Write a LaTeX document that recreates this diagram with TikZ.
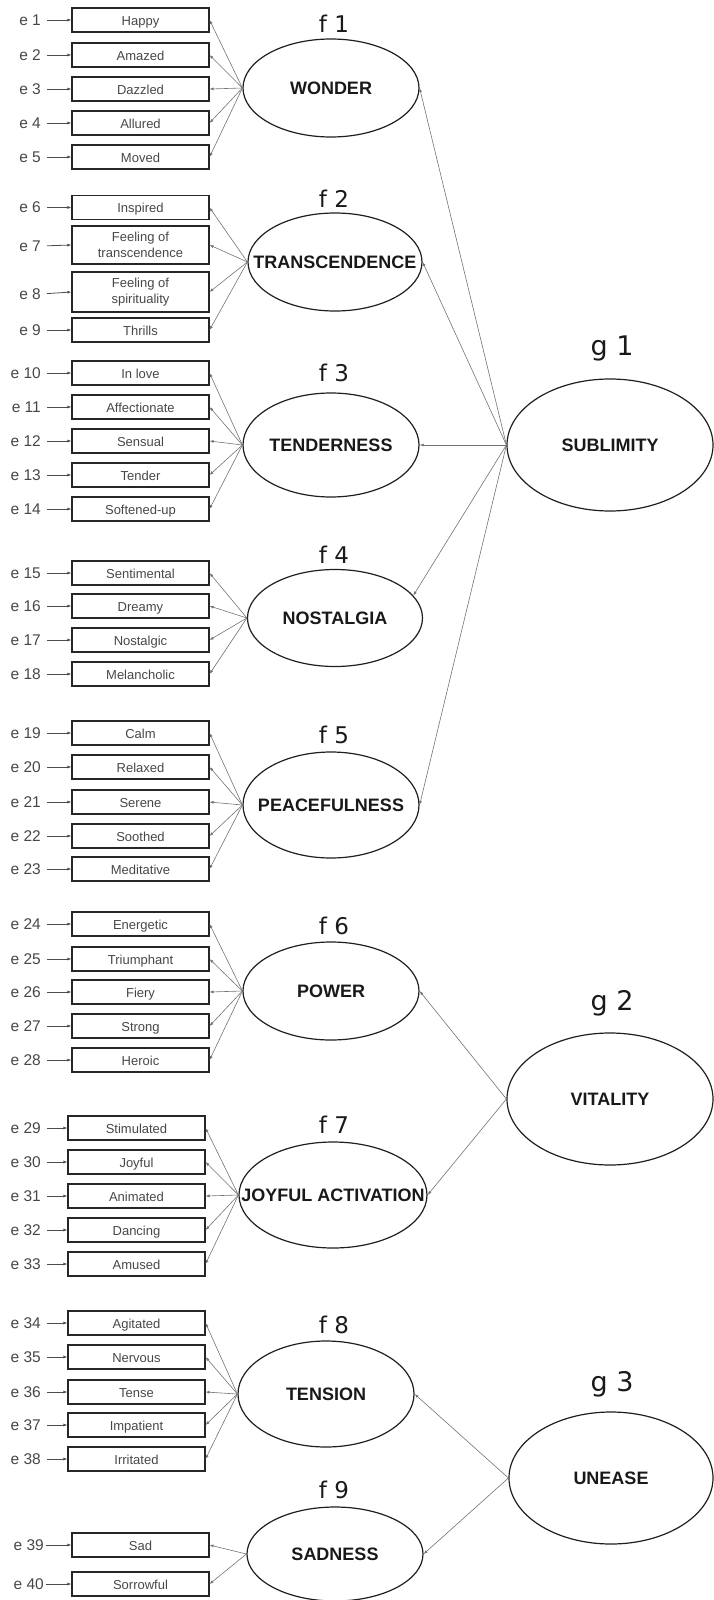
\documentclass[tikz,border=0pt]{standalone}
\usepackage{fontspec}
\setmainfont{Liberation Sans}
\newfontfamily\tagfamily{DejaVu Sans}
\usetikzlibrary{shapes.geometric,arrows.meta}

\begin{document}
\begin{tikzpicture}[x=1pt,y=-1pt,
  itembase/.style={draw=black!85, line width=1.1pt, minimum width=137pt,
    minimum height=24pt, inner sep=0pt, text=black!72,
    font=\fontsize{13}{16}\selectfont},
  item/.style={itembase, text height=10.5pt, text depth=0pt},
  twoline/.style={itembase, align=center},
  factor/.style={ellipse, draw=black!88, line width=1.2pt, inner sep=0pt,
    font=\fontsize{18}{20}\selectfont\bfseries, text=black!90},
  err/.style={anchor=east, inner sep=0pt, text=black!72,
    font=\fontsize{15.5}{17}\selectfont},
  ftag/.style={inner sep=0pt, text=black!90, font=\tagfamily\fontsize{23}{25}\selectfont},
  gtag/.style={inner sep=0pt, text=black!90, font=\tagfamily\fontsize{27}{29}\selectfont},
  load/.style={draw=black!55, line width=0.6pt, -{Latex[length=4pt,width=3pt]}},
  errarrow/.style={draw=black!70, line width=0.8pt, shorten <=6pt,
    -{Latex[length=4pt,width=3pt]}},
]
\useasboundingbox (0,0) rectangle (713,1600);

% ---------- second-order factors ----------
\node[factor, minimum width=206pt, minimum height=132pt] (g1) at (610,445) {\makebox[0pt]{SUBLIMITY}};
\node[factor, minimum width=206pt, minimum height=132pt] (g2) at (610,1099) {\makebox[0pt]{VITALITY}};
\node[factor, minimum width=204pt, minimum height=132pt] (g3) at (611,1478) {\makebox[0pt]{UNEASE}};
\node[gtag] (tg1) at (612,348) {g 1};
\node[gtag] (tg2) at (612,1003) {g 2};
\node[gtag] (tg3) at (612,1384) {g 3};

% ---------- first-order factors ----------
\node[factor, minimum width=176pt, minimum height=98pt]  (f1) at (331,88)   {\makebox[0pt]{WONDER}};
\node[factor, minimum width=174pt, minimum height=98pt]  (f2) at (335,262)  {\makebox[0pt]{TRANSCENDENCE}};
\node[factor, minimum width=176pt, minimum height=104pt] (f3) at (331,445)  {\makebox[0pt]{TENDERNESS}};
\node[factor, minimum width=175pt, minimum height=97pt]  (f4) at (335,618)  {\makebox[0pt]{NOSTALGIA}};
\node[factor, minimum width=176pt, minimum height=106pt] (f5) at (331,805)  {\makebox[0pt]{PEACEFULNESS}};
\node[factor, minimum width=176pt, minimum height=98pt]  (f6) at (331,991)  {\makebox[0pt]{POWER}};
\node[factor, minimum width=188pt, minimum height=106pt] (f7) at (333,1195) {\makebox[0pt]{JOYFUL ACTIVATION}};
\node[factor, minimum width=176pt, minimum height=106pt] (f8) at (326,1394) {\makebox[0pt]{TENSION}};
\node[factor, minimum width=176pt, minimum height=94pt]  (f9) at (335,1554) {\makebox[0pt]{SADNESS}};

\node[ftag] (tf1) at (334,23.5) {f 1};
\node[ftag] (tf2) at (334,199)  {f 2};
\node[ftag] (tf3) at (334,373)  {f 3};
\node[ftag] (tf4) at (334,555)  {f 4};
\node[ftag] (tf5) at (334,735)  {f 5};
\node[ftag] (tf6) at (334,926)  {f 6};
\node[ftag] (tf7) at (334,1125) {f 7};
\node[ftag] (tf8) at (334,1325) {f 8};
\node[ftag] (tf9) at (334,1490) {f 9};

% ---------- observed items and their error terms ----------
\foreach \i/\y/\t in {1/20/Happy, 2/55/Amazed, 3/89/Dazzled, 4/123/Allured, 5/157/Moved,
    10/373/In love, 11/407/Affectionate, 12/441/Sensual, 13/475/Tender, 14/509/Softened-up,
    15/573/Sentimental, 16/606/Dreamy, 17/640/Nostalgic, 18/674/Melancholic,
    19/733/Calm, 20/767/Relaxed, 21/802/Serene, 22/836/Soothed, 23/869/Meditative,
    24/924/Energetic, 25/959/Triumphant, 26/992/Fiery, 27/1026/Strong, 28/1060/Heroic}{
  \node[item] (b\i) at (140.5,\y) {\t};
  \node[err] (e\i) at (41,\y) {e \i};
}
\node[item] (b6) at (140.5,207.5) {Inspired};
\node[twoline, minimum height=38pt] (b7) at (140.5,245) {Feeling of\\transcendence};
\node[twoline, minimum height=40pt] (b8) at (140.5,292) {Feeling of\\spirituality};
\node[item] (b9) at (140.5,330) {Thrills};
\foreach \i/\y in {6/207.5, 7/246, 8/294, 9/330}{
  \node[err] (e\i) at (41,\y) {e \i};
}
\foreach \i/\y/\t in {29/1128/Stimulated, 30/1162/Joyful, 31/1196/Animated, 32/1230/Dancing, 33/1264/Amused,
    34/1323/Agitated, 35/1357/Nervous, 36/1392/Tense, 37/1425/Impatient, 38/1459/Irritated}{
  \node[item] (b\i) at (136.5,\y) {\t};
  \node[err] (e\i) at (41,\y) {e \i};
}
\foreach \i/\y/\t in {39/1545/Sad, 40/1584/Sorrowful}{
  \node[item] (b\i) at (140.5,\y) {\t};
  \node[err] (e\i) at (44,\y) {e \i};
}

% error arrows
\foreach \i in {1,...,38}{
  \draw[errarrow] (e\i.east) -- (b\i.west);
}
\foreach \i in {39,40}{
  \draw[errarrow, shorten <=1.5pt] (e\i.east) -- (b\i.west);
}

% ---------- loadings of items on first-order factors ----------
\foreach \i in {1,...,5}   \draw[load] (f1.west) -- (b\i.east);
\foreach \i in {6,...,9}   \draw[load] (f2.west) -- (b\i.east);
\foreach \i in {10,...,14} \draw[load] (f3.west) -- (b\i.east);
\foreach \i in {15,...,18} \draw[load] (f4.west) -- (b\i.east);
\foreach \i in {19,...,23} \draw[load] (f5.west) -- (b\i.east);
\foreach \i in {24,...,28} \draw[load] (f6.west) -- (b\i.east);
\foreach \i in {29,...,33} \draw[load] (f7.west) -- (b\i.east);
\foreach \i in {34,...,38} \draw[load] (f8.west) -- (b\i.east);
\foreach \i in {39,40}     \draw[load] (f9.west) -- (b\i.east);

% ---------- loadings of first-order on second-order factors ----------
\draw[load] (g1.west) -- (f1.east);
\draw[load] (g1.west) -- (f2.east);
\draw[load] (g1.west) -- (f3.east);
\draw[load] (g1.west) -- (f4.16);
\draw[load] (g1.west) -- (f5.east);
\draw[load] (g2.west) -- (f6.east);
\draw[load] (g2.west) -- (f7.east);
\draw[load] (g3.west) -- (f8.east);
\draw[load] (g3.west) -- (f9.east);
\end{tikzpicture}
\end{document}
